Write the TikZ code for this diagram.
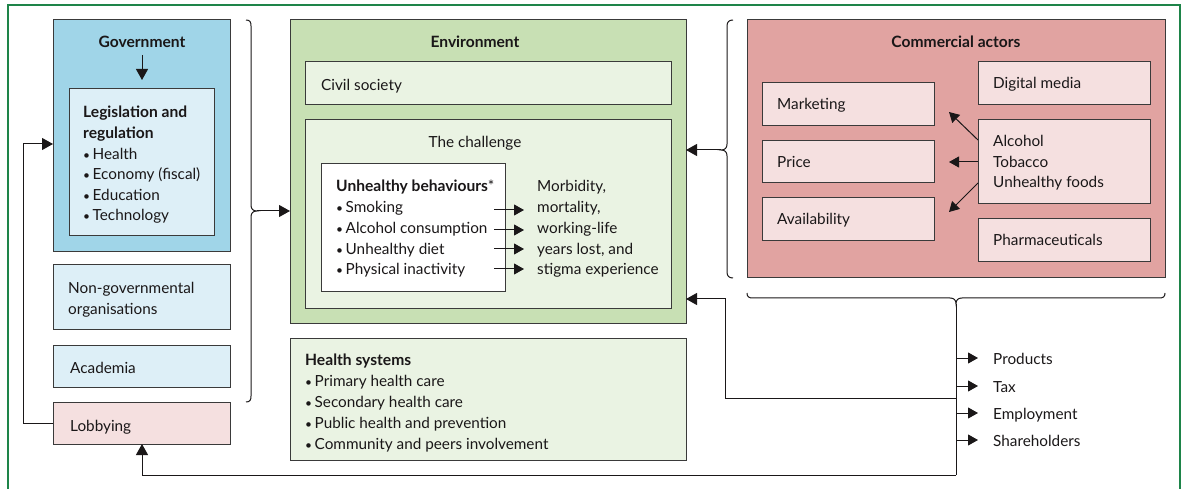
\documentclass[tikz,border=0pt]{standalone}
\usepackage{fontspec}
\setmainfont{Lato}
\usetikzlibrary{arrows.meta}

\definecolor{framegreen}{HTML}{1E8449}
\definecolor{boxline}{HTML}{3A3A3A}
\definecolor{textcol}{HTML}{1A1718}
\definecolor{govblue}{HTML}{A0D5E8}
\definecolor{paleblue}{HTML}{DDEFF7}
\definecolor{envgreen}{HTML}{C8E0B4}
\definecolor{palegreen}{HTML}{EAF3E3}
\definecolor{comred}{HTML}{E1A3A1}
\definecolor{palepink}{HTML}{F5E0E0}

\newcommand{\itm}{{\fontsize{12}{12}\selectfont\textbullet}\,}
\newcommand{\regfont}{\fontsize{15.3}{17}\selectfont}
\newcommand{\boldfont}{\fontsize{15.6}{17}\selectfont\bfseries}

\tikzset{
  bx/.style={draw=boxline, line width=1pt, anchor=north west, inner sep=0pt, outer sep=0pt},
  txt/.style={anchor=base west, inner sep=0pt, yshift=-1pt, text=textcol, font=\regfont},
  btxt/.style={txt, font=\boldfont},
  hd/.style={anchor=base, inner sep=0pt, yshift=-1pt, text=textcol, font=\boldfont},
  conn/.style={line width=1pt, draw=textcol},
  arr/.style={conn, -{Triangle[length=11pt,width=12pt]}},
  sarr/.style={conn, -{Triangle[length=10pt,width=11pt]}},
}

\begin{document}
\begin{tikzpicture}[x=1pt,y=-1pt]
\useasboundingbox (0,0) rectangle (1184,489);

% outer frame, open at the bottom
\draw[framegreen, line width=1.2pt] (8,489) -- (8,5) -- (1180,5) -- (1180,489);

% ---------------- left column ----------------
\node[bx, fill=govblue, minimum width=177, minimum height=232] (gov) at (53,20) {};
\node[hd] (govt) at (142,47) {Government};
\coordinate (govA) at (142,55);
\coordinate (govB) at (142,80);
\draw[arr] (govA) -- (govB);
\node[bx, fill=paleblue, minimum width=145, minimum height=147] (leg) at (69,89) {};
\node[btxt] (leg1) at (83,117) {Legislation and};
\node[btxt] (leg2) at (83,137.6) {regulation};
\foreach \t [count=\i] in {Health, Economy (fiscal), Education, Technology}
  \node[txt] (legi-\i) at (83,{137.6+\i*20.6}) {\itm\t};

\node[bx, fill=paleblue, minimum width=177, minimum height=64] (ngo) at (53,265) {};
\node[txt] (ngo1) at (68,293) {Non-governmental};
\node[txt] (ngo2) at (68,314) {organisations};

\node[bx, fill=paleblue, minimum width=177, minimum height=42] (acad) at (53,345) {};
\node[txt] (acadt) at (70,372) {Academia};

\node[bx, fill=palepink, minimum width=177, minimum height=42] (lob) at (53,402) {};
\node[txt] (lobt) at (70,430) {Lobbying};

% ---------------- environment ----------------
\node[bx, fill=envgreen, minimum width=396, minimum height=303] (env) at (290,20) {};
\node[hd] (envt) at (475,47) {Environment};
\node[bx, fill=palegreen, minimum width=366, minimum height=43] (civ) at (305,62) {};
\node[txt] (civt) at (321,90) {Civil society};
\node[bx, fill=palegreen, minimum width=366, minimum height=188] (chal) at (305,120) {};
\node[anchor=base, inner sep=0pt, yshift=-1pt, text=textcol, font=\regfont] (chalt) at (475,147) {The challenge};
\node[bx, fill=white, minimum width=184, minimum height=128] (ub) at (321,164) {};
\node[txt] (ubt) at (336,191) {{\boldfont Unhealthy behaviours}*};
\foreach \t [count=\i] in {Smoking, Alcohol consumption, Unhealthy diet, Physical inactivity}
  \node[txt] (ub-\i) at (336,{191+\i*20.75}) {\itm\t};
\foreach \t [count=\i] in {{Morbidity,}, {mortality,}, working-life, {years lost, and}, stigma experience}
  \node[txt] (out-\i) at (537,{191+(\i-1)*20.75}) {\t};
\foreach \yy [count=\i] in {210,230,249,269} {
  \coordinate (ua-\i) at (494,\yy);
  \coordinate (ub2-\i) at (524,\yy);
  \draw[sarr] (ua-\i) -- (ub2-\i);
}

% ---------------- health systems ----------------
\node[bx, fill=palegreen, minimum width=396, minimum height=122] (hs) at (290,338) {};
\node[btxt] (hst) at (305,364) {Health systems};
\foreach \t [count=\i] in {Primary health care, Secondary health care, Public health and prevention, Community and peers involvement}
  \node[txt] (hs-\i) at (305,{364+\i*21}) {\itm\t};

% ---------------- commercial actors ----------------
\node[bx, fill=comred, minimum width=418, minimum height=258] (com) at (747,20) {};
\node[hd] (comt) at (956,47) {Commercial actors};
\node[bx, fill=palepink, minimum width=172, minimum height=43] (mkt) at (762,83) {};
\node[txt] (mktt) at (777,109) {Marketing};
\node[bx, fill=palepink, minimum width=172, minimum height=42] (price) at (762,141) {};
\node[txt] (pricet) at (777,167) {Price};
\node[bx, fill=palepink, minimum width=172, minimum height=43] (avail) at (762,198) {};
\node[txt] (availt) at (777,224) {Availability};
\node[bx, fill=palepink, minimum width=172, minimum height=43] (dig) at (978,62) {};
\node[txt] (digt) at (993,88) {Digital media};
\node[bx, fill=palepink, minimum width=172, minimum height=84] (alc) at (978,120) {};
\node[txt] (alc1) at (993,146) {Alcohol};
\node[txt] (alc2) at (993,167) {Tobacco};
\node[txt] (alc3) at (993,187) {Unhealthy foods};
\node[bx, fill=palepink, minimum width=172, minimum height=43] (pharm) at (978,219) {};
\node[txt] (pharmt) at (993,245) {Pharmaceuticals};

\coordinate (cm1) at (949,112);
\coordinate (cm2) at (949,162);
\coordinate (cm3) at (949,212);
\draw[sarr] ([yshift=-20pt]alc.north west) -- (cm1);
\draw[sarr] ([yshift=-42pt]alc.north west) -- (cm2);
\draw[sarr] ([yshift=-63pt]alc.north west) -- (cm3);

% ---------------- braces ----------------
% left brace gathering the left column into the environment
\coordinate (lbt) at (257,211);
\draw[conn] (246,20) .. controls (250,20) and (251,22) .. (251,26) -- (251,205)
  .. controls (251,209) and (253,211) .. (lbt)
  .. controls (253,211) and (251,213) .. (251,217) -- (251,396)
  .. controls (251,400) and (250,402) .. (246,402);
\draw[arr] (lbt) -- (env.west |- lbt);

% brace gathering the commercial actors
\coordinate (rbt) at (721,150);
\draw[conn] (733,20) .. controls (729,20) and (727,22) .. (727,26) -- (727,144)
  .. controls (727,148) and (725,150) .. (rbt)
  .. controls (725,150) and (727,152) .. (727,156) -- (727,272)
  .. controls (727,276) and (729,278) .. (733,278);
\draw[arr] (rbt) -- (env.east |- rbt);

% brace below the commercial actors
\coordinate (bbt) at (956,304);
\draw[conn] (747,293) .. controls (747,297) and (749,298) .. (753,298) -- (950,298)
  .. controls (954,298) and (956,300) .. (bbt)
  .. controls (956,300) and (958,298) .. (962,298) -- (1159,298)
  .. controls (1163,298) and (1165,297) .. (1165,293);
\coordinate (bbend) at (956,475);
\draw[conn] (bbt) -- (bbend);

% outputs
\foreach \t/\yy [count=\i] in {Products/363, Tax/391, Employment/418, Shareholders/445} {
  \coordinate (op-\i) at (956,{\yy-5});
  \coordinate (oq-\i) at (978,{\yy-5});
  \draw[sarr] (op-\i) -- (oq-\i);
  \node[txt] (ot-\i) at (993,\yy) {\t};
}

% feedback to the environment
\coordinate (fb1) at (956,398);
\coordinate (fb2) at (725,398);
\coordinate (fb3) at (725,299);
\draw[arr] (fb1) -- (fb2) -- (fb3) -- (env.east |- fb3);

% feedback to lobbying
\draw[arr] (bbend) -- (142,475) -- (lob.south -| 142,0);

% lobbying loop back to government
\coordinate (lp1) at (23,423);
\coordinate (lp2) at (23,144);
\draw[arr] (lob.west |- lp1) -- (lp1) -- (lp2) -- (gov.west |- lp2);

\end{tikzpicture}
\end{document}
